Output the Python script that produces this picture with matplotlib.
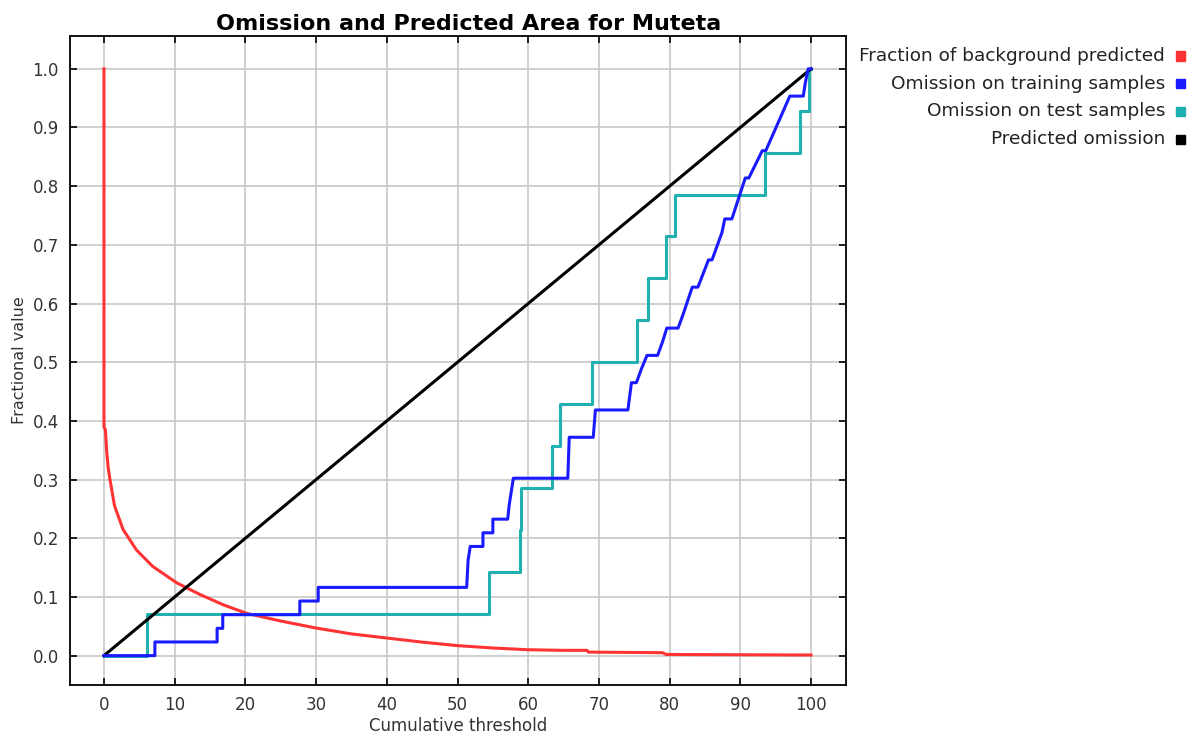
import matplotlib
matplotlib.use("Agg")
import matplotlib.pyplot as plt

# Fraction of background predicted (red)
bg_x = [0, 0, 0.2, 0.4, 0.6, 0.85, 1.5, 2.7, 4.6, 6.9, 10.3, 13.6, 17, 20.2, 25, 30,
        35, 40, 45, 50, 55, 60, 65, 68.3, 68.5, 79, 79.5, 100]
bg_y = [1.0, 0.39, 0.385, 0.345, 0.32, 0.30, 0.255, 0.215, 0.18, 0.152, 0.124, 0.104,
        0.086, 0.072, 0.059, 0.047, 0.037, 0.030, 0.023, 0.017, 0.013, 0.010, 0.009,
        0.009, 0.006, 0.005, 0.002, 0.001]

# Omission on training samples (43 samples): threshold, omitted count
train_x = [0, 7.2, 7.2, 16.0, 16.0, 16.8, 16.8, 27.7, 27.7, 30.3, 30.3, 51.3, 51.5,
           51.8, 53.6, 53.6, 55.0, 55.0, 57.1, 57.3, 57.9, 65.6, 65.8, 69.2, 69.5,
           74.1, 74.6, 75.3, 76.0, 76.8, 78.3, 79.0, 79.6, 81.2, 81.9, 83.2, 84.0,
           85.5, 86.0, 87.4, 87.8, 88.8, 90.7, 91.2, 93.1, 93.6, 97.0, 98.9, 99.2,
           99.6, 100]
train_n = [0, 0, 1, 1, 2, 2, 3, 3, 4, 4, 5, 5, 7,
           8, 8, 9, 9, 10, 10, 11, 13, 13, 16, 16, 18,
           18, 20, 20, 21, 22, 22, 23, 24, 24, 25, 27, 27,
           29, 29, 31, 32, 32, 35, 35, 37, 37, 41, 41, 42,
           43, 43]

# Omission on test samples (14 samples)
test_x = [0, 6.1, 54.5, 58.8, 59.0, 63.4, 64.5, 69.0, 75.4, 77.0, 79.5, 80.8, 93.5,
          98.4, 99.7, 100]
test_n = [0, 1, 2, 3, 4, 5, 6, 7, 8, 9, 10, 11, 12, 13, 14, 14]

pred_x = [0, 100]
pred_y = [0, 1]

labels = ["Fraction of background predicted", "Omission on training samples",
          "Omission on test samples", "Predicted omission"]
colors = ["#ff3333", "#1a1aff", "#20b0b0", "#000000"]

fig = plt.figure(figsize=(11.97, 7.49), dpi=100)
ax = fig.add_axes([0.0585, 0.0855, 0.6483, 0.8665])

ax.plot(bg_x, bg_y, color=colors[0], lw=2.2, zorder=3)
ax.plot(train_x, [n / 43 for n in train_n], color=colors[1], lw=2.2, zorder=4)
ax.plot(test_x, [n / 14 for n in test_n], color=colors[2], lw=2.2,
        drawstyle="steps-post", zorder=3)
ax.plot(pred_x, pred_y, color=colors[3], lw=2.2, zorder=3)

ax.set_xlim(-4.8, 104.95)
ax.set_ylim(-0.05, 1.056)
ax.set_xticks(range(0, 101, 10))
ax.set_yticks([i / 10 for i in range(11)])
ax.set_yticklabels([f"{i / 10:.1f}" for i in range(11)])
ax.grid(True, color="#c8c8c8", lw=1.2)
ax.set_axisbelow(True)
ax.tick_params(direction="in", length=5, width=1.2, top=True, right=True,
               labelsize=12, labelcolor="#333333", pad=8)
for s in ax.spines.values():
    s.set_linewidth(1.3)

ax.set_title("Omission and Predicted Area for Muteta", fontsize=16,
             fontweight="bold", pad=4, x=0.514)
ax.set_xlabel("Cumulative threshold", fontsize=12, color="#333333", labelpad=2)
ax.set_ylabel("Fractional value", fontsize=11.5, color="#333333", labelpad=4)

# legend on the right, text right-aligned with a small square after it
for i, (lab, c) in enumerate(zip(labels, colors)):
    y = 1 - (56 + i * 27.7) / 749
    fig.text(1165 / 1197, y, lab, ha="right", va="center", fontsize=13.3,
             color="#222222")
    fig.patches.append(plt.Rectangle((1176 / 1197, y - 4.5 / 749), 9 / 1197, 9 / 749,
                                     transform=fig.transFigure, color=c,
                                     figure=fig))

fig.savefig("out.png", dpi=100)
